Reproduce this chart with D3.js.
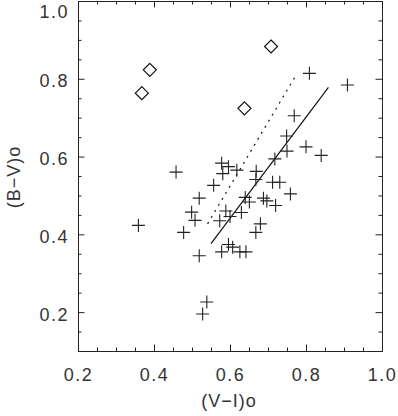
<!DOCTYPE html>
<html>
<head>
<meta charset="utf-8">
<script src="https://cdn.jsdelivr.net/npm/d3@7"></script>
<style>
  body { margin: 0; background: #fff; }
  text { font-family: "Liberation Sans", Arial, sans-serif; fill: #333; }
</style>
</head>
<body>
<div id="scatter"></div>
<script>
// chart values
var crossVI = [0.359,0.458,0.578,0.596,0.581,0.618,0.557,0.519,0.499,0.508,0.478,0.519,0.578,0.596,0.607,0.626,0.642,
  0.589,0.600,0.573,0.630,0.640,0.651,0.669,0.668,0.718,0.750,0.688,0.697,0.720,0.712,0.731,0.759,0.680,0.668,
  0.809,0.909,0.769,0.749,0.800,0.840,0.539,0.528];
var crossBV = [0.423,0.560,0.583,0.574,0.556,0.565,0.526,0.493,0.457,0.436,0.405,0.345,0.355,0.374,0.367,0.355,0.355,
  0.460,0.446,0.435,0.456,0.495,0.483,0.562,0.541,0.594,0.614,0.493,0.486,0.474,0.534,0.534,0.504,0.427,0.405,
  0.814,0.784,0.705,0.653,0.625,0.603,0.226,0.195];

var diamondVI = [0.389, 0.368, 0.708, 0.638];
var diamondBV = [0.823, 0.763, 0.883, 0.724];

// fitted lines: [V-I, B-V] end points
var solidFit = [[0.550, 0.376], [0.859, 0.778]];
var dottedFit = [[0.541, 0.427], [0.776, 0.813]];

var xTicks = [0.2, 0.4, 0.6, 0.8, 1.0];
var yTicks = [0.2, 0.4, 0.6, 0.8, 1.0];
var xMinor = [0.25, 0.3, 0.35, 0.45, 0.5, 0.55, 0.65, 0.7, 0.75, 0.85, 0.9, 0.95];
var yMinor = [0.15, 0.25, 0.3, 0.35, 0.45, 0.5, 0.55, 0.65, 0.7, 0.75, 0.85, 0.9, 0.95];

var svgWidth = 398;
var svgHeight = 416;

var plot = { left: 78, right: 382, top: 1, bottom: 351 };

var svg = d3.select("#scatter")
  .append("svg")
  .attr("width", svgWidth)
  .attr("height", svgHeight);

var x = d3.scaleLinear().domain([0.2, 1.0]).range([plot.left, plot.right]);
var y = d3.scaleLinear().domain([0.1, 1.0]).range([plot.bottom, plot.top]);

var fmt = d3.format(".1f");
var axisColor = "#222";

function styleAxis(g) {
  g.selectAll("path, line").attr("stroke", axisColor).attr("stroke-width", 1);
  g.selectAll("text")
    .attr("fill", "#333")
    .style("font-size", "18px")
    .style("letter-spacing", "1.5px")
    .style("font-family", "Liberation Sans, Arial, sans-serif");
}

// bottom axis with labels
svg.append("g")
  .attr("transform", `translate(0, ${plot.bottom})`)
  .call(d3.axisBottom(x).tickValues(xTicks).tickFormat(fmt).tickSizeInner(-6.5).tickSizeOuter(0).tickPadding(17))
  .call(styleAxis);
svg.append("g")
  .attr("transform", `translate(0, ${plot.bottom})`)
  .call(d3.axisBottom(x).tickValues(xMinor).tickFormat("").tickSizeInner(-3.5).tickSizeOuter(0))
  .call(styleAxis);

// top axis, ticks only
svg.append("g")
  .attr("transform", `translate(0, ${plot.top})`)
  .call(d3.axisTop(x).tickValues(xTicks).tickFormat("").tickSizeInner(-6.5).tickSizeOuter(0))
  .call(styleAxis);
svg.append("g")
  .attr("transform", `translate(0, ${plot.top})`)
  .call(d3.axisTop(x).tickValues(xMinor).tickFormat("").tickSizeInner(-3.5).tickSizeOuter(0))
  .call(styleAxis);

// left axis with labels
var yAxis = svg.append("g")
  .attr("transform", `translate(${plot.left}, 0)`)
  .call(d3.axisLeft(y).tickValues(yTicks).tickFormat(fmt).tickSizeInner(-6.5).tickSizeOuter(0).tickPadding(9))
  .call(styleAxis);
yAxis.selectAll("text").attr("dy", "0.45em");
// top label sits lower so it stays inside the page
yAxis.selectAll(".tick").filter(d => d === 1.0).select("text").attr("y", 8);
svg.append("g")
  .attr("transform", `translate(${plot.left}, 0)`)
  .call(d3.axisLeft(y).tickValues(yMinor).tickFormat("").tickSizeInner(-3.5).tickSizeOuter(0))
  .call(styleAxis);

// right axis, ticks only
svg.append("g")
  .attr("transform", `translate(${plot.right}, 0)`)
  .call(d3.axisRight(y).tickValues(yTicks).tickFormat("").tickSizeInner(-6.5).tickSizeOuter(0))
  .call(styleAxis);
svg.append("g")
  .attr("transform", `translate(${plot.right}, 0)`)
  .call(d3.axisRight(y).tickValues(yMinor).tickFormat("").tickSizeInner(-3.5).tickSizeOuter(0))
  .call(styleAxis);

// axis titles
svg.append("text")
  .attr("x", 229)
  .attr("y", 407)
  .attr("text-anchor", "middle")
  .style("font-size", "18px")
  .style("letter-spacing", "1px")
  .text("(V\u2212I)o");

svg.append("text")
  .attr("transform", "translate(20, 177) rotate(-90)")
  .attr("text-anchor", "middle")
  .style("font-size", "18px")
  .style("letter-spacing", "1px")
  .text("(B\u2212V)o");

// fit lines
var line = d3.line().x(d => x(d[0])).y(d => y(d[1]));

svg.append("path")
  .datum(solidFit)
  .attr("d", line)
  .attr("fill", "none")
  .attr("stroke", "#111")
  .attr("stroke-width", 1.2);

svg.append("path")
  .datum(dottedFit)
  .attr("d", line)
  .attr("fill", "none")
  .attr("stroke", "#111")
  .attr("stroke-width", 1.2)
  .attr("stroke-dasharray", "2,5");

// plus markers
var crosses = crossVI.map((v, i) => [v, crossBV[i]]);
var arm = 6.5;
svg.append("g")
  .selectAll("path")
  .data(crosses)
  .enter()
  .append("path")
  .attr("d", d => `M${x(d[0]) - arm},${y(d[1])}H${x(d[0]) + arm}M${x(d[0])},${y(d[1]) - arm}V${y(d[1]) + arm}`)
  .attr("stroke", "#222")
  .attr("stroke-width", 1.1)
  .attr("fill", "none");

// diamond markers
var diamonds = diamondVI.map((v, i) => [v, diamondBV[i]]);
var ds = 6.5;
svg.append("g")
  .selectAll("path")
  .data(diamonds)
  .enter()
  .append("path")
  .attr("d", d => `M${x(d[0])},${y(d[1]) - ds}L${x(d[0]) + ds},${y(d[1])}L${x(d[0])},${y(d[1]) + ds}L${x(d[0]) - ds},${y(d[1])}Z`)
  .attr("stroke", "#111")
  .attr("stroke-width", 1.2)
  .attr("fill", "none");
</script>
</body>
</html>
